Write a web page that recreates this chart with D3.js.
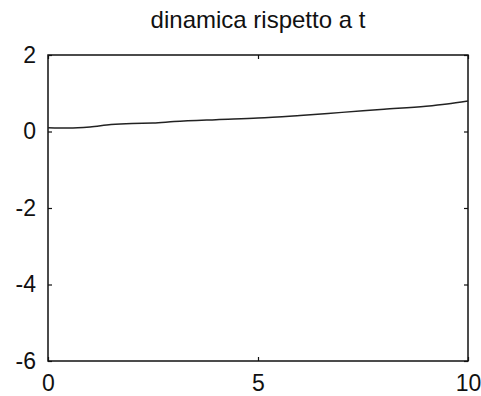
<!DOCTYPE html>
<html>
<head>
<meta charset="utf-8">
<script src="https://cdn.jsdelivr.net/npm/d3@7"></script>
<style>
  body { margin: 0; background: #fff; }
  text { font-family: "Liberation Sans", Arial, sans-serif; fill: #111; }
</style>
</head>
<body>
<div id="chart"></div>
<script>
// values
const tValues = [0, 0.5, 1, 1.5, 2, 2.5, 3, 4, 5, 6, 7, 8, 9, 9.5, 10];
const yValues = [0.10, 0.09, 0.12, 0.18, 0.21, 0.22, 0.26, 0.31, 0.35, 0.42, 0.50, 0.58, 0.66, 0.72, 0.80];
const xTicks = [0, 5, 10];
const yTicks = [-6, -4, -2, 0, 2];
const title = "dinamica rispetto a t";

const width = 481, height = 396;
const margin = {top: 55, right: 13, bottom: 35, left: 48};

const svg = d3.select("#chart")
    .append("svg")
    .attr("width", width)
    .attr("height", height);

const x = d3.scaleLinear().domain([0, 10]).range([margin.left, width - margin.right]);
const y = d3.scaleLinear().domain([-6, 2]).range([height - margin.bottom, margin.top]);

// frame
svg.append("rect")
    .attr("x", x(0))
    .attr("y", y(2))
    .attr("width", x(10) - x(0))
    .attr("height", y(-6) - y(2))
    .attr("fill", "none")
    .attr("stroke", "#111")
    .attr("stroke-width", 1.5);

// axes, ticks pointing inward
const styleAxis = g => {
    g.select(".domain").remove();
    g.selectAll(".tick line").attr("stroke", "#111").attr("stroke-width", 1.2);
    g.selectAll(".tick text").attr("font-size", 23).attr("fill", "#111");
};

// plain hyphen for negatives, like the original
const fmt = d => String(d);

svg.append("g")
    .attr("transform", `translate(0,${y(-6)})`)
    .call(d3.axisBottom(x).tickValues(xTicks).tickSizeInner(-4).tickPadding(14).tickFormat(fmt))
    .call(styleAxis);

svg.append("g")
    .attr("transform", `translate(0,${y(2)})`)
    .call(d3.axisTop(x).tickValues(xTicks).tickSizeInner(-4).tickFormat(""))
    .call(styleAxis);

svg.append("g")
    .attr("transform", `translate(${x(0)},0)`)
    .call(d3.axisLeft(y).tickValues(yTicks).tickSizeInner(-4).tickPadding(12).tickFormat(fmt))
    .call(styleAxis);

svg.append("g")
    .attr("transform", `translate(${x(10)},0)`)
    .call(d3.axisRight(y).tickValues(yTicks).tickSizeInner(-4).tickFormat(""))
    .call(styleAxis);

// curve
const line = d3.line()
    .x((d, i) => x(tValues[i]))
    .y(d => y(d))
    .curve(d3.curveMonotoneX);

svg.append("path")
    .datum(yValues)
    .attr("d", line)
    .attr("fill", "none")
    .attr("stroke", "#222")
    .attr("stroke-width", 1.5);

// title
svg.append("text")
    .attr("x", (x(0) + x(10)) / 2)
    .attr("y", 28)
    .attr("text-anchor", "middle")
    .attr("font-size", 24)
    .text(title);
</script>
</body>
</html>
